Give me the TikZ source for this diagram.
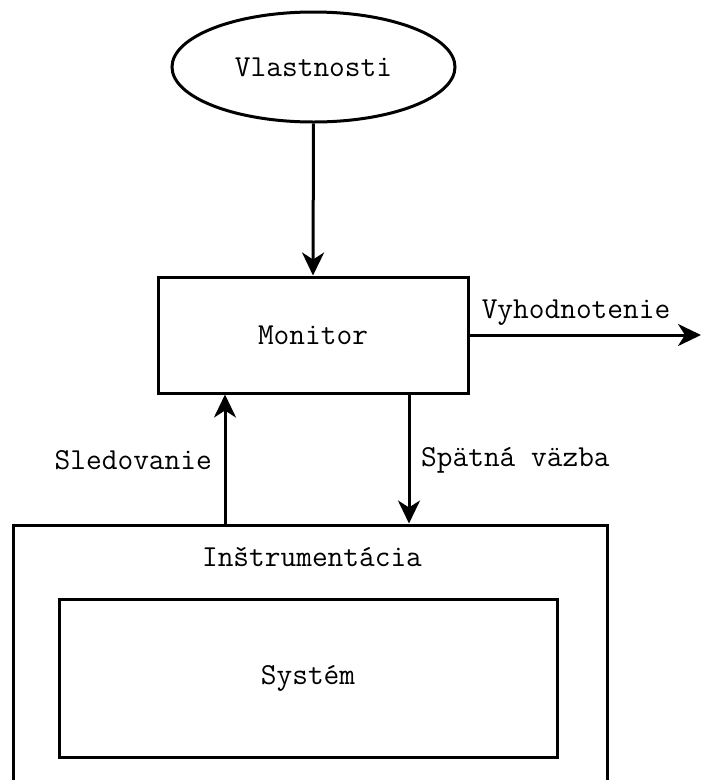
\documentclass[tikz,border=0pt]{standalone}
\usetikzlibrary{arrows.meta,shapes.geometric}

\tikzset{
  every node/.style={font=\ttfamily\fontsize{30.5}{34}\selectfont},
  box/.style={draw, line width=3pt, rectangle, inner sep=0pt},
  oval/.style={draw, line width=3pt, ellipse, inner sep=0pt},
  txt/.style={inner sep=0pt},
  flow/.style={line width=3pt, -{Stealth[length=23pt, width=22pt, inset=7pt]}},
}

\begin{document}
\begin{tikzpicture}[x=1pt, y=-1pt]
  \useasboundingbox (0,0) rectangle (702,780);
  \clip (0,0) rectangle (702,780);

  % blocks
  \node[oval, minimum width=283pt, minimum height=110pt] (vl) at (313.5,67) {Vlastnosti};
  \node[box, minimum width=310pt, minimum height=116pt] (mon) at (313,335) {Monitor};
  \node[box, minimum width=594pt, minimum height=290pt] (ins) at (310,670) {};
  \node[txt] (inslbl) at (312,557) {Inštrumentácia};
  \node[box, minimum width=498pt, minimum height=158pt] (sys) at (308,678) {Systém};

  % free ends and connector positions
  \coordinate (out) at (701,335);
  \coordinate (sx) at (225,0);
  \coordinate (fx) at (409,0);

  % connectors
  \draw[flow] (vl.south) -- (mon.north);
  \draw[flow] (mon.east) -- (out);
  \draw[flow] (ins.north -| sx) -- (mon.south -| sx);
  \draw[flow] (mon.south -| fx) -- (ins.north -| fx);

  % connector labels
  \node[txt] (lvy) at (576,313) {Vyhodnotenie};
  \node[txt, anchor=east] (lsl) at (212,460) {Sledovanie};
  \node[txt, anchor=west] (lsp) at (421,460) {Spätná väzba};
\end{tikzpicture}
\end{document}
